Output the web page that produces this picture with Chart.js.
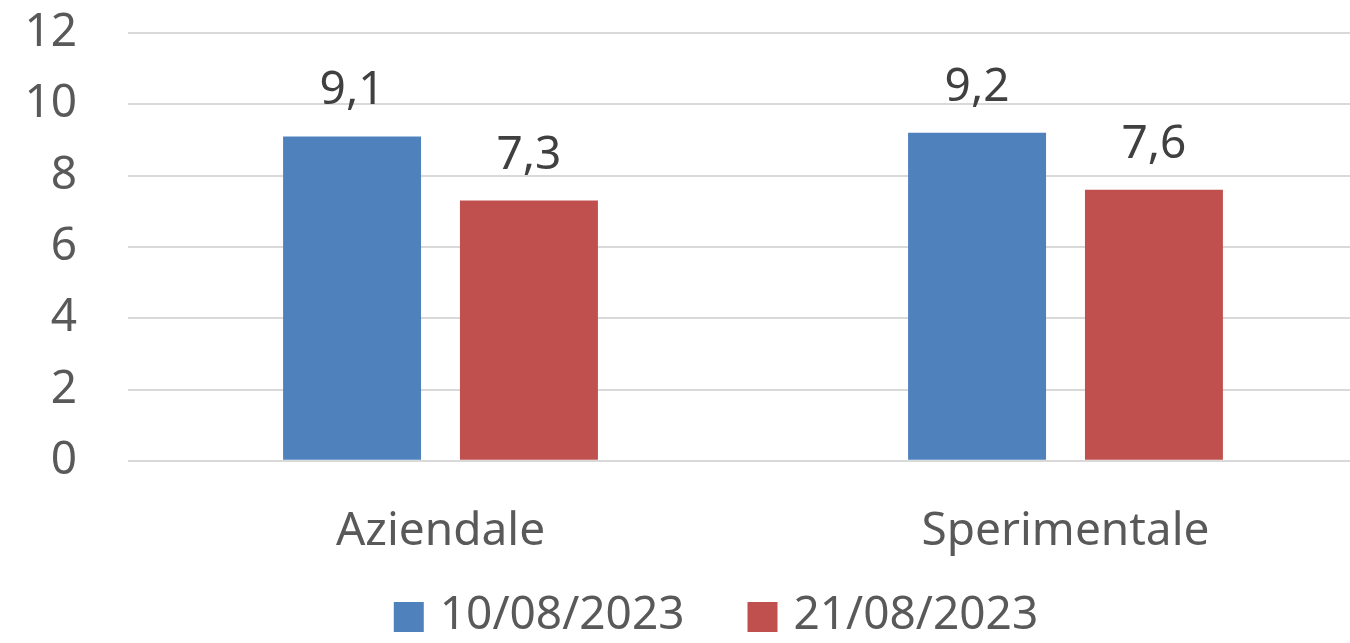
<!DOCTYPE html>
<html>
<head>
<meta charset="utf-8">
<script src="https://cdn.jsdelivr.net/npm/chart.js@4"></script>
<style>
  html, body { margin: 0; padding: 0; background: #fff; overflow: hidden; }
  canvas { display: block; }
</style>
</head>
<body>
<canvas id="chart" width="1430" height="643"></canvas>
<script>
const categories = ['Aziendale', 'Sperimentale'];
const seriesNames = ['10/08/2023', '21/08/2023'];
const values1008 = [9.1, 9.2];
const values2108 = [7.3, 7.6];
const yTicks = [0, 2, 4, 6, 8, 10, 12];

const FONT = "'Noto Sans', 'Open Sans', sans-serif";

// etichette sopra le barre, con la virgola decimale
const valueLabels = {
  id: 'valueLabels',
  afterDatasetsDraw(chart) {
    const ctx = chart.ctx;
    ctx.save();
    ctx.font = '46px ' + FONT;
    ctx.fillStyle = '#404040';
    ctx.textAlign = 'center';
    ctx.textBaseline = 'middle';
    chart.data.datasets.forEach((ds, i) => {
      chart.getDatasetMeta(i).data.forEach((bar, j) => {
        const txt = ds.data[j].toFixed(1).replace('.', ',');
        ctx.fillText(txt, bar.x, bar.y - 45);
      });
    });
    ctx.restore();
  }
};

// legenda in basso, disegnata a mano per controllare gli spazi
const bottomLegend = {
  id: 'bottomLegend',
  afterDraw(chart, args, opts) {
    const ctx = chart.ctx;
    const box = 30, gap = 16, itemGap = 63;
    ctx.save();
    ctx.font = '46px ' + FONT;
    ctx.textBaseline = 'middle';
    ctx.textAlign = 'left';
    const items = chart.data.datasets.map(ds => ({
      text: ds.label, color: ds.backgroundColor, w: ctx.measureText(ds.label).width
    }));
    const total = items.reduce((s, it) => s + box + gap + it.w, 0) + itemGap * (items.length - 1);
    let x = opts.centerX - total / 2;
    items.forEach(it => {
      ctx.fillStyle = it.color;
      ctx.fillRect(x, opts.y - box / 2, box, box);
      ctx.fillStyle = '#595959';
      ctx.fillText(it.text, x + box + gap, opts.y - 1);
      x += box + gap + it.w + itemGap;
    });
    ctx.restore();
  }
};

new Chart(document.getElementById('chart'), {
  type: 'bar',
  data: {
    labels: categories,
    datasets: [
      { label: seriesNames[0], data: values1008, backgroundColor: '#4F81BD' },
      { label: seriesNames[1], data: values2108, backgroundColor: '#C0504D' }
    ]
  },
  options: {
    responsive: false,
    animation: false,
    categoryPercentage: 0.566,
    barPercentage: 0.78,
    layout: { padding: { left: 0, right: 52, top: 33, bottom: 49 } },
    scales: {
      x: {
        grid: { display: false },
        border: { display: false },
        ticks: { color: '#595959', font: { family: FONT, size: 46 }, padding: 35, autoSkip: false }
      },
      y: {
        min: 0,
        max: 12,
        afterBuildTicks: s => { s.ticks = yTicks.map(v => ({ value: v })); },
        afterFit: s => { s.width = 128; s.paddingTop = 0; s.paddingBottom = 0; },
        grid: { color: '#D9D9D9', lineWidth: 2, drawTicks: false },
        border: { display: false },
        ticks: { color: '#595959', font: { family: FONT, size: 46 }, padding: 51, autoSkip: false }
      }
    },
    plugins: {
      legend: { display: false },
      tooltip: { enabled: false },
      bottomLegend: { centerX: 716, y: 617 }
    }
  },
  plugins: [valueLabels, bottomLegend]
});
</script>
</body>
</html>
